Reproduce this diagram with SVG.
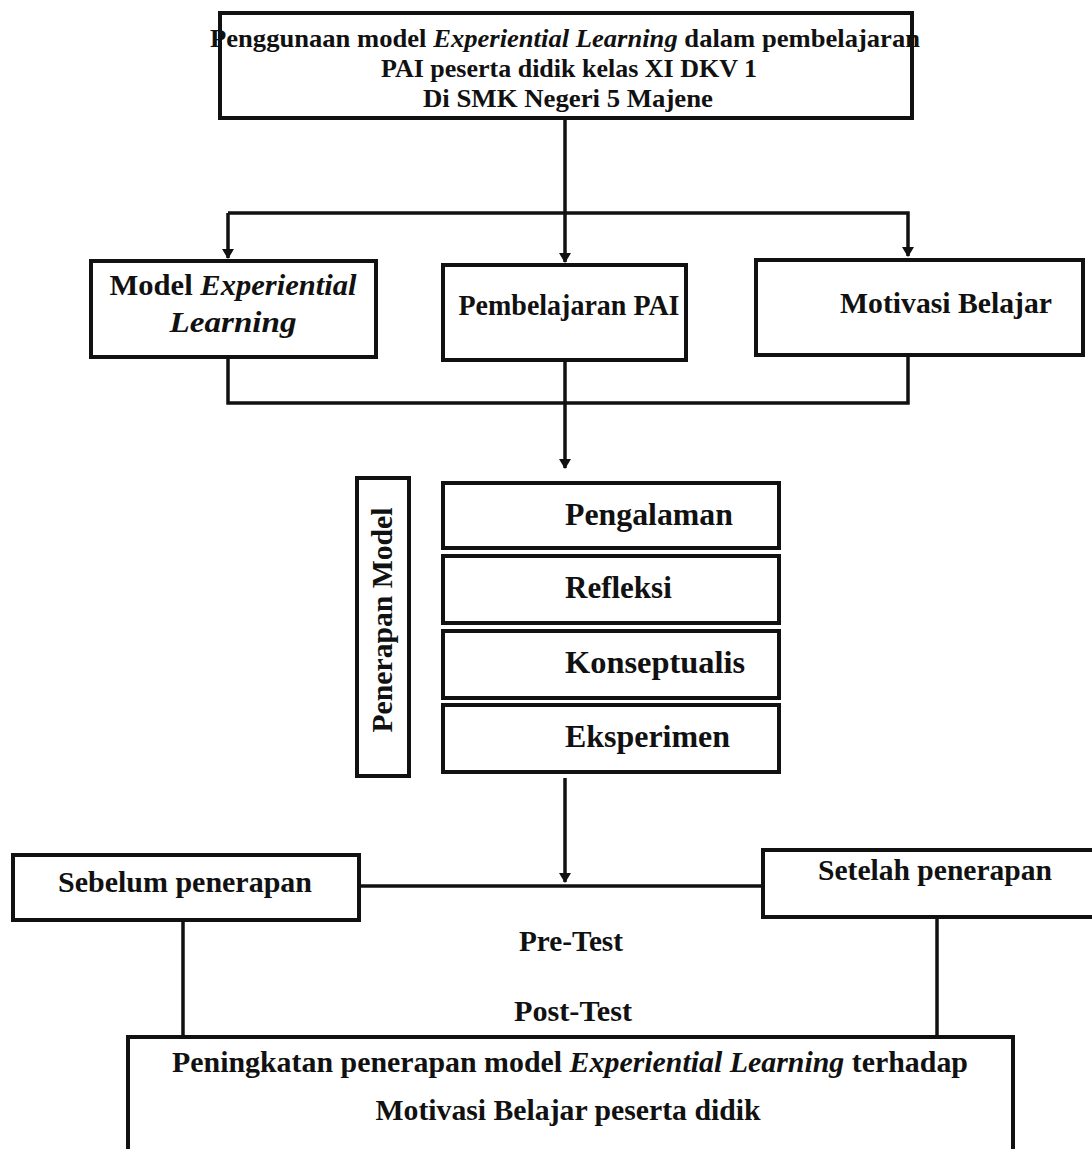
<svg xmlns="http://www.w3.org/2000/svg" width="1092" height="1149" viewBox="0 0 1092 1149" font-family="'Liberation Serif', 'Times New Roman', Times, serif">
<style>
.box{fill:#fff;stroke:#111;stroke-width:4}
.ln{fill:none;stroke:#111;stroke-width:3.5}
text{font-family:'Liberation Serif', Times, serif;font-weight:bold;fill:#111}
.c{text-anchor:middle}
.i{font-style:italic}
</style>
<defs>
<marker id="ah" markerWidth="10" markerHeight="12" refX="9" refY="6" orient="auto" markerUnits="userSpaceOnUse" viewBox="0 0 10 12">
<path d="M0,0 L10,6 L0,12 Z" fill="#111"/>
</marker>
</defs>
<rect width="1092" height="1149" fill="#fff"/>
<g id="connectors">
<line class="ln" x1="565" y1="119" x2="565" y2="262" marker-end="url(#ah)"/>
<polyline class="ln" points="228,213 908,213 908,256" marker-end="url(#ah)"/>
<line class="ln" x1="228" y1="213" x2="228" y2="258" marker-end="url(#ah)"/>
<polyline class="ln" points="228,357 228,403 908,403 908,355"/>
<line class="ln" x1="565" y1="360" x2="565" y2="468" marker-end="url(#ah)"/>
<line class="ln" x1="565" y1="778" x2="565" y2="882" marker-end="url(#ah)"/>
<line class="ln" x1="359" y1="886" x2="763" y2="886"/>
<line class="ln" x1="183" y1="920" x2="183" y2="1037"/>
<line class="ln" x1="937" y1="917" x2="937" y2="1036"/>
</g>
<g id="top">
<rect class="box" x="220" y="13" width="692" height="105"/>
<text x="565" y="47" class="c" font-size="26" textLength="710" lengthAdjust="spacingAndGlyphs">Penggunaan model <tspan class="i">Experiential Learning</tspan> dalam pembelajaran</text>
<text x="569" y="77" class="c" font-size="26" textLength="376" lengthAdjust="spacingAndGlyphs">PAI peserta didik kelas XI DKV 1</text>
<text x="568" y="107" class="c" font-size="26" textLength="290" lengthAdjust="spacingAndGlyphs">Di SMK Negeri 5 Majene</text>
</g>
<g id="model">
<rect class="box" x="91" y="261" width="285" height="96"/>
<text x="233" y="295" class="c" font-size="30" textLength="247" lengthAdjust="spacingAndGlyphs">Model <tspan class="i">Experiential</tspan></text>
<text x="233" y="332" class="c i" font-size="30" textLength="127" lengthAdjust="spacingAndGlyphs">Learning</text>
</g>
<g id="pai">
<rect class="box" x="443" y="265" width="243" height="95"/>
<text x="569" y="315" class="c" font-size="29" textLength="221" lengthAdjust="spacingAndGlyphs">Pembelajaran PAI</text>
</g>
<g id="motivasi">
<rect class="box" x="756" y="260" width="327" height="95"/>
<text x="946" y="313" class="c" font-size="30" textLength="212" lengthAdjust="spacingAndGlyphs">Motivasi Belajar</text>
</g>
<g id="penerapan">
<rect class="box" x="357" y="478" width="52" height="298"/>
<text transform="translate(392,620) rotate(-90)" class="c" font-size="29" textLength="225" lengthAdjust="spacingAndGlyphs">Penerapan Model</text>
</g>
<g id="pengalaman">
<rect class="box" x="443" y="483" width="336" height="65"/>
<text x="565" y="525" font-size="31" textLength="168" lengthAdjust="spacingAndGlyphs">Pengalaman</text>
</g>
<g id="refleksi">
<rect class="box" x="443" y="556" width="336" height="67"/>
<text x="565" y="598" font-size="31">Refleksi</text>
</g>
<g id="konseptualis">
<rect class="box" x="443" y="631" width="336" height="67"/>
<text x="565" y="673" font-size="31" textLength="180" lengthAdjust="spacingAndGlyphs">Konseptualis</text>
</g>
<g id="eksperimen">
<rect class="box" x="443" y="705" width="336" height="67"/>
<text x="565" y="747" font-size="31" textLength="165" lengthAdjust="spacingAndGlyphs">Eksperimen</text>
</g>
<g id="sebelum">
<rect class="box" x="13" y="855" width="346" height="65"/>
<text x="185" y="892" class="c" font-size="30" textLength="254" lengthAdjust="spacingAndGlyphs">Sebelum penerapan</text>
</g>
<g id="setelah">
<rect class="box" x="763" y="850" width="340" height="67"/>
<text x="935" y="880" class="c" font-size="30" textLength="234" lengthAdjust="spacingAndGlyphs">Setelah penerapan</text>
</g>
<g id="tests">
<text x="571" y="951" class="c" font-size="29" textLength="104" lengthAdjust="spacingAndGlyphs">Pre-Test</text>
<text x="573" y="1021" class="c" font-size="29" textLength="118" lengthAdjust="spacingAndGlyphs">Post-Test</text>
</g>
<g id="hasil">
<rect class="box" x="128" y="1037" width="885" height="130"/>
<text x="570" y="1072" class="c" font-size="29" textLength="796" lengthAdjust="spacingAndGlyphs">Peningkatan penerapan model <tspan class="i">Experiential Learning</tspan> terhadap</text>
<text x="568" y="1120" class="c" font-size="29" textLength="385" lengthAdjust="spacingAndGlyphs">Motivasi Belajar peserta didik</text>
</g>
</svg>
